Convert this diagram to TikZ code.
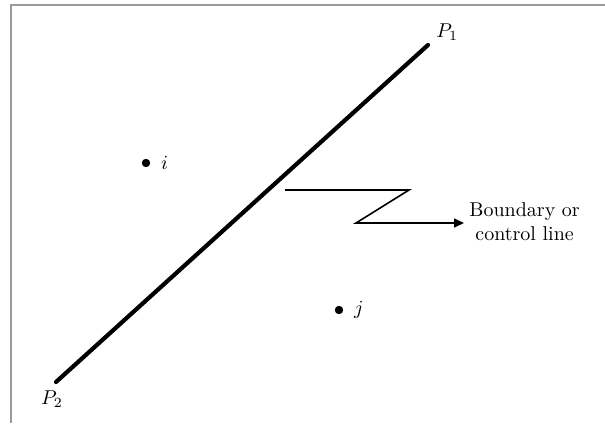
\documentclass[tikz,border=0pt]{standalone}
\usepackage{amsmath, amssymb}
\usepackage{tikz}
\usetikzlibrary{arrows.meta, calc, positioning}

\begin{document}
\begin{tikzpicture}[x=0.5pt, y=-0.5pt,
  pt/.style={circle, fill=black, inner sep=0pt, minimum size=4.2pt},
  lbl/.style={inner sep=1pt}]
\useasboundingbox (0,0) rectangle (605,423);
% frame (top and left only)
\draw[gray!80, line width=1.1pt] (11,423)--(11,5)--(605,5);
% boundary line P2 -- P1
\coordinate (p1) at (428,45);
\coordinate (p2) at (56,382);
\draw[line width=2.1pt, line cap=round] (p2)--(p1);
\node[lbl, anchor=south west] at (p1) [xshift=3pt, yshift=1pt] {$P_1$};
\node[lbl, anchor=north] at (p2) [xshift=-2pt, yshift=-3pt] {$P_2$};
% the two points
\node[pt] (i) at (146,163) {};
\node[lbl, right=4pt of i] {$i$};
\node[pt] (j) at (339,310) {};
\node[lbl, right=4pt of j] {$j$};
% zigzag pointer
\coordinate (z0) at (285,190);
\coordinate (z1) at (409,190);
\coordinate (z2) at (356,223);
\node[align=center, inner sep=0pt, anchor=west] (bc) at (469,222) {Boundary or\\control line};
\draw[line width=0.8pt, -{Triangle[length=5pt,width=4.5pt]}]
  (z0)--(z1)--(z2)--([xshift=-2.5pt]z2 -| bc.west);
\end{tikzpicture}
\end{document}
